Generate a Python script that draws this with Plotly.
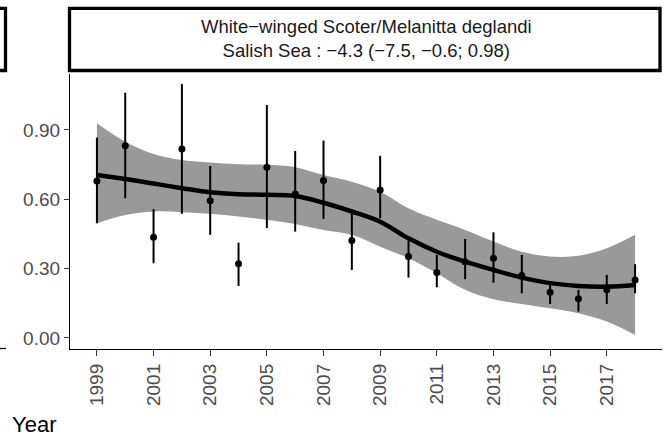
import plotly.graph_objects as go

# ---- data ----
years = [1999, 2000, 2001, 2002, 2003, 2004, 2005, 2006, 2007, 2008,
         2009, 2010, 2011, 2012, 2013, 2014, 2015, 2016, 2017, 2018]
index_vals = [0.679, 0.831, 0.436, 0.817, 0.594, 0.321, 0.739, 0.623, 0.681, 0.421,
              0.640, 0.352, 0.283, 0.330, 0.345, 0.270, 0.198, 0.169, 0.208, 0.251]
upper_ci = [0.867, 1.061, 0.557, 1.099, 0.744, 0.412, 1.008, 0.809, 0.854, 0.547,
            0.788, 0.420, 0.359, 0.428, 0.457, 0.359, 0.244, 0.208, 0.273, 0.319]
lower_ci = [0.496, 0.604, 0.323, 0.537, 0.446, 0.225, 0.475, 0.460, 0.515, 0.294,
            0.518, 0.261, 0.219, 0.254, 0.239, 0.193, 0.147, 0.114, 0.147, 0.193]
smooth_fit = [0.705, 0.688, 0.668, 0.648, 0.630, 0.622, 0.619, 0.614, 0.585, 0.547,
              0.503, 0.431, 0.373, 0.330, 0.294, 0.261, 0.237, 0.225, 0.222, 0.229]
band_upper = [0.929, 0.849, 0.796, 0.770, 0.759, 0.752, 0.749, 0.739, 0.705, 0.676,
              0.633, 0.561, 0.511, 0.467, 0.417, 0.373, 0.352, 0.355, 0.388, 0.446]
band_lower = [0.496, 0.532, 0.547, 0.544, 0.537, 0.525, 0.511, 0.493, 0.467, 0.446,
              0.395, 0.345, 0.280, 0.208, 0.167, 0.147, 0.128, 0.107, 0.071, 0.013]
x_ticks = [1999, 2001, 2003, 2005, 2007, 2009, 2011, 2013, 2015, 2017]
y_ticks = [0.0, 0.3, 0.6, 0.9]
y_tick_labels = ["0.00", "0.30", "0.60", "0.90"]
strip_line1 = "White\u2212winged Scoter/Melanitta deglandi"
strip_line2 = "Salish Sea : \u22124.3 (\u22127.5, \u22120.6; 0.98)"
x_title = "Year"

FONT = "Liberation Sans, Arial, sans-serif"

fig = go.Figure()

# confidence band
fig.add_trace(go.Scatter(x=years, y=band_lower, mode="lines", line=dict(width=0, shape="spline"),
                         showlegend=False, hoverinfo="skip"))
fig.add_trace(go.Scatter(x=years, y=band_upper, mode="lines", line=dict(width=0, shape="spline"),
                         fill="tonexty", fillcolor="#999999", showlegend=False, hoverinfo="skip"))

# error bars + points
fig.add_trace(go.Scatter(
    x=years, y=index_vals, mode="markers",
    marker=dict(color="black", size=7),
    error_y=dict(type="data", symmetric=False,
                 array=[u - v for u, v in zip(upper_ci, index_vals)],
                 arrayminus=[v - l for v, l in zip(index_vals, lower_ci)],
                 color="black", thickness=2, width=0),
    showlegend=False))

# smooth line
fig.add_trace(go.Scatter(x=years, y=smooth_fit, mode="lines",
                         line=dict(color="black", width=4.5, shape="spline"),
                         showlegend=False))

L, R, T, B = 70, 10, 74, 95
W, H = 672, 444
pw, ph = W - L - R, H - T - B

def px_x(x):
    return (x - L) / pw

def px_y(y):
    return (H - B - y) / ph

fig.update_layout(
    width=W, height=H,
    margin=dict(l=L, r=R, t=T, b=B),
    paper_bgcolor="white", plot_bgcolor="white",
    font=dict(family=FONT, color="#4d4d4d"),
    xaxis=dict(range=[1998.05, 2018.95], tickvals=x_ticks, ticktext=[str(v) for v in x_ticks],
               tickangle=-90, showgrid=False, zeroline=False, showline=True,
               linecolor="black", linewidth=1.3, ticks="outside", ticklen=6,
               tickcolor="#333333", tickwidth=1.2, tickfont=dict(size=19, color="#4d4d4d")),
    yaxis=dict(range=[-0.048, 1.142], tickvals=y_ticks, ticktext=y_tick_labels,
               showgrid=False, zeroline=False, showline=True,
               linecolor="black", linewidth=1.3, ticks="outside", ticklen=5,
               tickcolor="#333333", tickwidth=1.2, tickfont=dict(size=19, color="#4d4d4d")),
    shapes=[
        # strip box
        dict(type="rect", xref="paper", yref="paper",
             x0=px_x(69.5), x1=px_x(660), y0=px_y(70.5), y1=px_y(8.3),
             line=dict(color="black", width=3.3), fillcolor="white", layer="above"),
        # fragment of neighbouring panel strip
        dict(type="rect", xref="paper", yref="paper",
             x0=px_x(-20), x1=px_x(5.5), y0=px_y(70.5), y1=px_y(8.3),
             line=dict(color="black", width=3.3), fillcolor="white", layer="above"),
        # fragment of neighbouring axis line
        dict(type="line", xref="paper", yref="paper",
             x0=px_x(0), x1=px_x(6), y0=px_y(348.5), y1=px_y(348.5),
             line=dict(color="black", width=1.3)),
    ],
    annotations=[
        dict(text=strip_line1 + "<br>" + strip_line2, xref="paper", yref="paper",
             x=px_x(366), y=px_y(38.5), xanchor="center", yanchor="middle",
             showarrow=False, font=dict(size=18.5, color="#1a1a1a", family=FONT)),
        dict(text=x_title, xref="paper", yref="paper",
             x=px_x(10), y=px_y(424), xanchor="left", yanchor="middle",
             showarrow=False, font=dict(size=22, color="black", family=FONT)),
    ],
)

fig.write_html("out.html", config={"displayModeBar": False},
               post_script="document.body.style.margin='0';")
